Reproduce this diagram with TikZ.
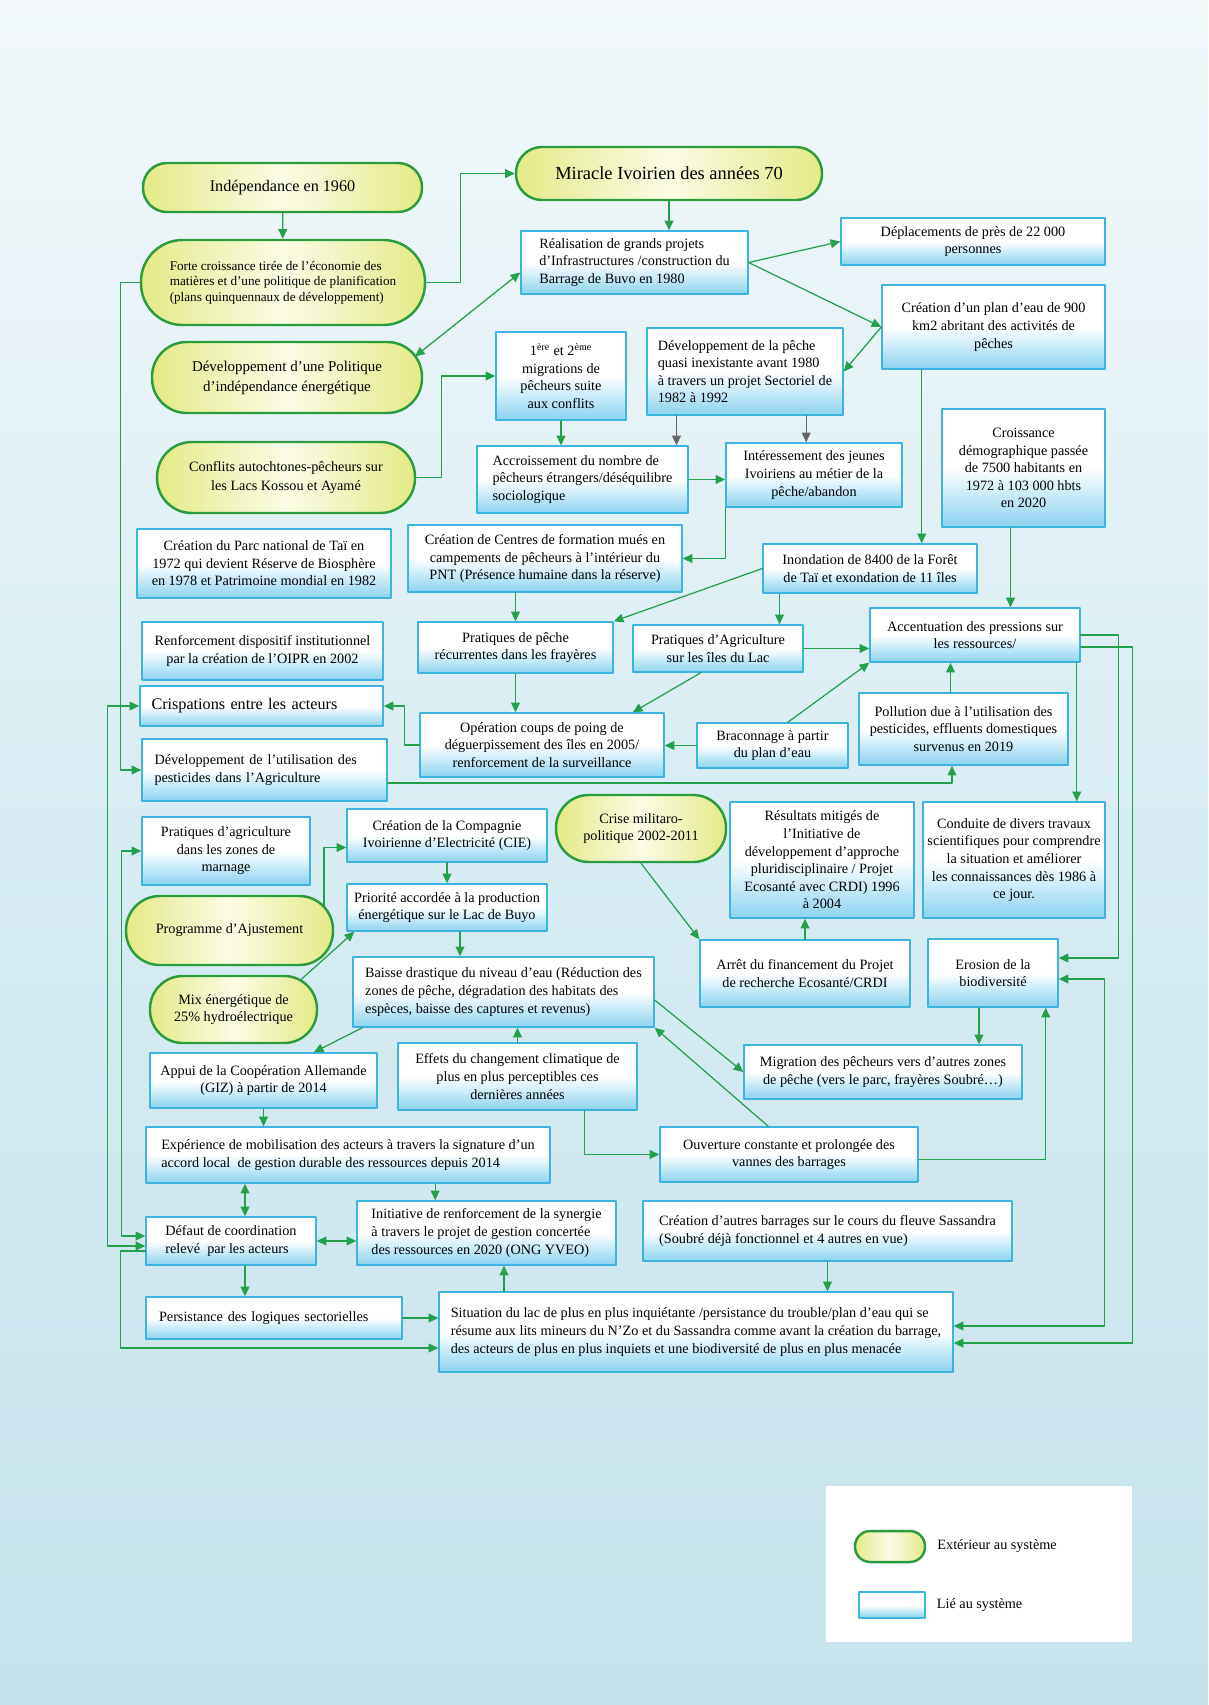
\documentclass[tikz,border=0pt]{standalone}
\usepackage{fontspec}
\setmainfont{Liberation Serif}
\usetikzlibrary{arrows.meta, positioning, calc}
\definecolor{fond1}{HTML}{F2F8FA}
\definecolor{fond2}{HTML}{D7ECF3}
\definecolor{fond3}{HTML}{C7E2EB}
\definecolor{bordbleu}{HTML}{3DB4DF}
\definecolor{basbleu}{HTML}{8AD3F0}
\definecolor{vertfleche}{HTML}{22A04B}
\definecolor{vertbord}{HTML}{2E9A3E}
\definecolor{jaune}{HTML}{E4EA86}
\definecolor{jaunepale}{HTML}{FBFCE6}
\definecolor{grisfleche}{HTML}{666666}
\newcommand{\corps}{\fontsize{8.1}{10}\selectfont}

\begin{document}
\begin{tikzpicture}[x=0.02cm, y=-0.02cm,
    line cap=round, line join=round,
    boxsys/.style 2 args={draw=bordbleu, line width=0.8pt, top color=white, bottom color=basbleu, middle color=white, minimum width=#1*0.02cm, minimum height=#2*0.02cm, inner sep=1pt, font=\corps, align=center},
    boxext/.style 2 args={draw=vertbord, line width=1.4pt, rounded corners=#2*0.0098cm, left color=jaune, right color=jaune, middle color=jaunepale, minimum width=#1*0.02cm, minimum height=#2*0.02cm, inner sep=1pt, font=\corps, align=center},
    lien/.style={->, >={Triangle[length=5.5pt, width=5pt]}, draw=vertfleche, line width=0.7pt},
    lien2/.style={lien, <->},
    liengris/.style={lien, draw=grisfleche}
  ]
    \useasboundingbox (0,0) rectangle (1208,1705);
    \shade[top color=fond1, bottom color=fond3, middle color=fond2] (0,0) rectangle (1208,1705);

    % Colonne gauche (haut)
    \node[boxext={279}{49}, font=\fontsize{9.2}{11}\selectfont] (Indep) at (282.5,187.5) {Indépendance en 1960};
    \node[boxext={284}{85}, font=\fontsize{7.5}{8.8}\selectfont, align=left] (Forte) at (283,282.5) {Forte croissance tirée de l’économie des\\matières et d’une politique de planification\\(plans quinquennaux de développement)};
    \node[boxext={270}{71}, font=\fontsize{8.5}{11.4}\selectfont] (Pol) at (287,377.5) {Développement d’une Politique\\d’indépendance énergétique};
    \node[boxext={258}{71}, font=\fontsize{8.1}{10.4}\selectfont] (Conf) at (286,477.5) {Conflits autochtones-pêcheurs sur\\les Lacs Kossou et Ayamé};

    % Miracle et grands projets
    \node[boxext={306}{53}, font=\fontsize{10.5}{12.5}\selectfont] (Miracle) at (669,173.5) {Miracle Ivoirien des années 70};
    \node[boxsys={227}{63}, align=left] (Real) at (634.5,262.5) {Réalisation de grands projets\\d’Infrastructures /construction du\\Barrage de Buvo en 1980};
    \node[boxsys={264}{47}] (Depl) at (973,241.5) {Déplacements de près de 22 000\\personnes};
    \node[boxsys={223}{84}] (Plan) at (993.5,327) {Création d’un plan d’eau de 900\\km2 abritant des activités de\\pêches};
    \node[boxsys={130}{88}] (Migr) at (561,376) {1\textsuperscript{ère} et 2\textsuperscript{ème}\\migrations de\\pêcheurs suite\\aux conflits};
    \node[boxsys={196}{87}, align=left] (DevPeche) at (745,371.5) {Développement de la pêche\\quasi inexistante avant 1980\\à travers un projet Sectoriel de\\1982 à 1992};
    \node[boxsys={211}{67}, align=left] (Accr) at (582.5,479.5) {Accroissement du nombre de\\pêcheurs étrangers/déséquilibre\\sociologique};
    \node[boxsys={176}{64}] (Int) at (814,475) {Intéressement des jeunes\\Ivoiriens au métier de la\\pêche/abandon};
    \node[boxsys={163}{118}] (Croiss) at (1023.5,468) {Croissance\\démographique passée\\de 7500 habitants en\\1972 à 103 000 hbts\\en 2020};

    % Parc, pêche et pressions
    \node[boxsys={254}{69}] (Parc) at (264,563.5) {Création du Parc national de Taï en\\1972 qui devient Réserve de Biosphère\\en 1978 et Patrimoine mondial en 1982};
    \node[boxsys={274}{67}] (Centres) at (545,558.5) {Création de Centres de formation mués en\\campements de pêcheurs à l’intérieur du\\PNT (Présence humaine dans la réserve)};
    \node[boxsys={214}{49}] (Inond) at (870,568.5) {Inondation de 8400 de la Forêt\\de Taï et exondation de 11 îles};
    \node[boxsys={241}{58}] (Renf) at (262.5,651) {Renforcement dispositif institutionnel\\par la création de l’OIPR en 2002};
    \node[boxsys={195}{51}] (PecheFr) at (515.5,647.5) {Pratiques de pêche\\récurrentes dans les frayères};
    \node[boxsys={170}{47}] (AgriIles) at (718,648.5) {Pratiques d’Agriculture\\sur les îles du Lac};
    \node[boxsys={210}{54}] (Accent) at (975,635) {Accentuation des pressions sur\\les ressources/};
    \node[boxsys={243}{40}, font=\fontsize{9.2}{11}\selectfont, text width=4.4cm, align=left] (Crisp) at (261.5,706) {Crispations entre les acteurs};
    \node[boxsys={244}{64}] (Op) at (542,745) {Opération coups de poing de\\déguerpissement des îles en 2005/\\renforcement de la surveillance};
    \node[boxsys={151}{45}] (Brac) at (772.5,745.5) {Braconnage à partir\\du plan d’eau};
    \node[boxsys={209}{72}] (Poll) at (963.5,729) {Pollution due à l’utilisation des\\pesticides, effluents domestiques\\survenus en 2019};
    \node[boxsys={245}{62}, text width=4.4cm, align=left] (DevPest) at (264.5,770) {Développement de l’utilisation des\\pesticides dans l’Agriculture};

    % Énergie et recherche
    \node[boxsys={168}{68}] (Marn) at (226,851) {Pratiques d’agriculture\\dans les zones de\\marnage};
    \node[boxsys={200}{53}] (CIE) at (447,835.5) {Création de la Compagnie\\Ivoirienne d’Electricité (CIE)};
    \node[boxext={170}{67}] (Crise) at (641,828.5) {Crise militaro-\\politique 2002-2011};
    \node[boxsys={184}{116}] (Result) at (822,860) {Résultats mitigés de\\l’Initiative de\\développement d’approche\\pluridisciplinaire / Projet\\Ecosanté avec CRDI) 1996\\à 2004};
    \node[boxsys={182}{116}] (Cond) at (1014,860) {Conduite de divers travaux\\scientifiques pour comprendre\\la situation et améliorer\\les connaissances dès 1986 à\\ce jour.};
    \node[boxext={207}{69}] (Prog) at (229.5,930.5) {Programme d’Ajustement};
    \node[boxsys={200}{47}] (Prio) at (447,907.5) {Priorité accordée à la production\\énergétique sur le Lac de Buyo};
    \node[boxext={167}{67}] (Mix) at (233.5,1009.5) {Mix énergétique de\\25\% hydroélectrique};
    \node[boxsys={301}{70}, align=left] (Baisse) at (503.5,992) {Baisse drastique du niveau d’eau (Réduction des\\zones de pêche, dégradation des habitats des\\espèces, baisse des captures et revenus)};
    \node[boxsys={210}{67}] (Arret) at (805,973.5) {Arrêt du financement du Projet\\de recherche Ecosanté/CRDI};
    \node[boxsys={130}{68}] (Erosion) at (993,973) {Erosion de la\\biodiversité};

    % Bas du schéma
    \node[boxsys={227}{55}] (Appui) at (263.5,1080.5) {Appui de la Coopération Allemande\\(GIZ) à partir de 2014};
    \node[boxsys={239}{67}] (Effets) at (517.5,1076.5) {Effets du changement climatique de\\plus en plus perceptibles ces\\dernières années};
    \node[boxsys={278}{54}] (Migration) at (883,1072) {Migration des pêcheurs vers d’autres zones\\de pêche (vers le parc, frayères Soubré…)};
    \node[boxsys={404}{56}, align=left] (Exp) at (348,1155) {Expérience de mobilisation des acteurs à travers la signature d’un\\accord local~ de gestion durable des ressources depuis 2014};
    \node[boxsys={258}{55}] (Ouv) at (789,1154.5) {Ouverture constante et prolongée des\\vannes des barrages};
    \node[boxsys={170}{48}, align=left] (Def) at (231,1241) {Défaut de coordination\\relevé~ par les acteurs};
    \node[boxsys={259}{64}, align=left] (Init) at (486.5,1233) {Initiative de renforcement de la synergie\\à travers le projet de gestion concertée\\des ressources en 2020 (ONG YVEO)};
    \node[boxsys={369}{60}, align=left] (Barr) at (827.5,1231) {Création d’autres barrages sur le cours du fleuve Sassandra\\(Soubré déjà fonctionnel et 4 autres en vue)};
    \node[boxsys={256}{42}, text width=4.6cm, align=left] (Persist) at (274,1318) {Persistance des logiques sectorielles};
    \node[boxsys={514}{80}, align=left] (Sit) at (696,1332) {Situation du lac de plus en plus inquiétante /persistance du trouble/plan d’eau qui se\\résume aux lits mineurs du N’Zo et du Sassandra comme avant la création du barrage,\\des acteurs de plus en plus inquiets et une biodiversité de plus en plus menacée};

    % Légende
    \node[fill=white, minimum width=6.12cm, minimum height=3.12cm, anchor=north west] (Legende) at (826,1486) {};
    \node[boxext={70}{31}] (LegExt) at (890,1546.5) {};
    \node[right=0.1cm of LegExt, font=\corps] (LegExtTxt) {Extérieur au système};
    \node[boxsys={66}{26}] (LegSys) at (892,1605) {};
    \node[right=0.1cm of LegSys, font=\corps] (LegSysTxt) {Lié au système};

    % Liens du haut
    \draw[lien] (Indep) -- (Forte);
    \draw[lien] (Forte.east) -- ++(34,0) |- (Miracle.west);
    \draw[lien] (Miracle.south) -- (Miracle.south |- Real.north);
    \draw[lien2] ([yshift=-0.2cm]Real.west) -- ([xshift=2.56cm, yshift=0.42cm]Pol.center);
    \draw[lien] (Real.east) -- (Depl.west);
    \draw[lien] (Real.east) -- (Plan.west);
    \draw[lien] (Plan.west) -- (DevPeche.east);
    \draw[lien] (Conf.east) -- ++(25,0) |- (Migr.west);
    \draw[lien] (Migr.south) -- (Migr.south |- Accr.north);
    \coordinate (g1) at ($(DevPeche.south west)!0.153!(DevPeche.south east)$);
    \coordinate (g2) at ($(DevPeche.south west)!0.81!(DevPeche.south east)$);
    \draw[liengris] (g1) -- (g1 |- Accr.north);
    \draw[liengris] (g2) -- (g2 |- Int.north);
    \draw[lien] (Accr.east) -- (Accr.east -| Int.west);
    \draw[lien] (Int.south west) |- (Centres.east);
    \coordinate (p1) at ($(Plan.south west)!0.18!(Plan.south east)$);
    \draw[lien] (p1) -- (p1 |- Inond.north);
    \coordinate (c1) at ([xshift=-0.26cm]Croiss.south);
    \draw[lien] (c1) -- (c1 |- Accent.north);

    % Pêche, îles et pressions
    \draw[lien] (Centres.south -| PecheFr.north) -- (PecheFr.north);
    \draw[lien] (Inond.west) -- (PecheFr.north east);
    \coordinate (i1) at ($(Inond.south west)!0.08!(Inond.south east)$);
    \draw[lien] (i1) -- (i1 |- AgriIles.north);
    \draw[lien] (AgriIles.east) -- (AgriIles.east -| Accent.west);
    \draw[lien] (PecheFr.south) -- (PecheFr.south |- Op.north);
    \draw[lien] ($(AgriIles.south west)!0.4!(AgriIles.south east)$) -- ($(Op.north west)!0.87!(Op.north east)$);
    \draw[lien] (Brac.west) -- (Brac.west -| Op.east);
    \draw[lien] ($(Brac.north west)!0.6!(Brac.north east)$) -- (Accent.south west);
    \coordinate (po) at ([xshift=-0.26cm]Poll.north);
    \draw[lien] (po) -- (po |- Accent.south);
    \draw[lien] (Op.west) -- ++(-15,0) |- (Crisp.east);
    \coordinate (po2) at ([xshift=-0.23cm]Poll.south);
    \draw[lien] ([yshift=-0.26cm]DevPest.east) -| (po2);

    % Rails de droite
    \coordinate (a1) at ([xshift=-0.08cm]Accent.south east);
    \draw[lien] (a1) -- (a1 |- Cond.north);
    \draw[lien] (Accent.east) -- ++(38,0) |- ([yshift=0.3cm]Erosion.east);
    \draw[lien] ([yshift=-0.24cm]Accent.east) -- ++(52,0) |- ([yshift=-0.22cm]Sit.east);
    \draw[lien2] ([yshift=-0.12cm]Erosion.east) -- ++(46,0) |- ([yshift=0.12cm]Sit.east);

    % Énergie, crise et recherche
    \draw[lien] (Crise.south) -- (Arret.north west);
    \draw[lien] (Arret.north) -- (Arret.north |- Result.south);
    \draw[lien] ([xshift=1.89cm, yshift=0.46cm]Prog.center) |- ([yshift=-0.24cm]CIE.west);
    \draw[lien] (CIE.south) -- (CIE.south |- Prio.north);
    \coordinate (pr) at ([xshift=0.26cm]Prio.south);
    \draw[lien] (pr) -- (pr |- Baisse.north);
    \draw[lien] ([xshift=1.33cm, yshift=0.58cm]Mix.center) -- ([xshift=0.16cm]Prio.south west);

    % Bas
    \draw[lien] ([xshift=0.2cm]Baisse.south west) -- ($(Appui.north west)!0.72!(Appui.north east)$);
    \draw[lien] (Appui.south) -- (Appui.south |- Exp.north);
    \coordinate (d1) at ([xshift=0.28cm]Def.north);
    \draw[lien2] (d1) -- (d1 |- Exp.south);
    \coordinate (e1) at ($(Exp.south west)!0.715!(Exp.south east)$);
    \draw[lien] (e1) -- (e1 |- Init.north);
    \draw[lien2] (Def.east) -- (Def.east -| Init.west);
    \coordinate (d2) at ([xshift=0.28cm]Def.south);
    \draw[lien] (d2) -- (d2 |- Persist.north);
    \draw[lien] (Persist.east) -- (Persist.east -| Sit.west);
    \coordinate (s1) at ([xshift=0.35cm]Init.south);
    \draw[lien] (s1 |- Sit.north) -- (s1);
    \draw[lien] (Barr.south) -- (Barr.south |- Sit.north);
    \draw[lien] (Effets.north) -- (Effets.north |- Baisse.south);
    \coordinate (f1) at ($(Effets.south west)!0.78!(Effets.south east)$);
    \draw[lien] (f1) |- (Ouv.west);
    \draw[lien] ($(Ouv.north west)!0.42!(Ouv.north east)$) -- (Baisse.south east);
    \draw[lien] ([yshift=-0.16cm]Baisse.east) -- (Migration.west);
    \coordinate (o1) at ([xshift=-0.26cm]Erosion.south east);
    \draw[lien] ([yshift=-0.1cm]Ouv.east) -| (o1);
    \coordinate (r1) at ([xshift=-0.28cm]Erosion.south);
    \draw[lien] (r1) -- (r1 |- Migration.north);

    % Rails de gauche
    \draw[lien] (Forte.west) -- ++(-19,0) |- (DevPest.west);
    \draw[lien2] (Crisp.west) -- ++(-32,0) |- ([yshift=-0.1cm]Def.west);
    \draw[lien2] (Marn.west) -- ++(-20,0) |- ([yshift=0.1cm]Def.west);
    \draw[lien] ([yshift=-0.2cm]Def.west) -- ++(-25,0) |- ([yshift=-0.32cm]Sit.west);

  \end{tikzpicture}
\end{document}
